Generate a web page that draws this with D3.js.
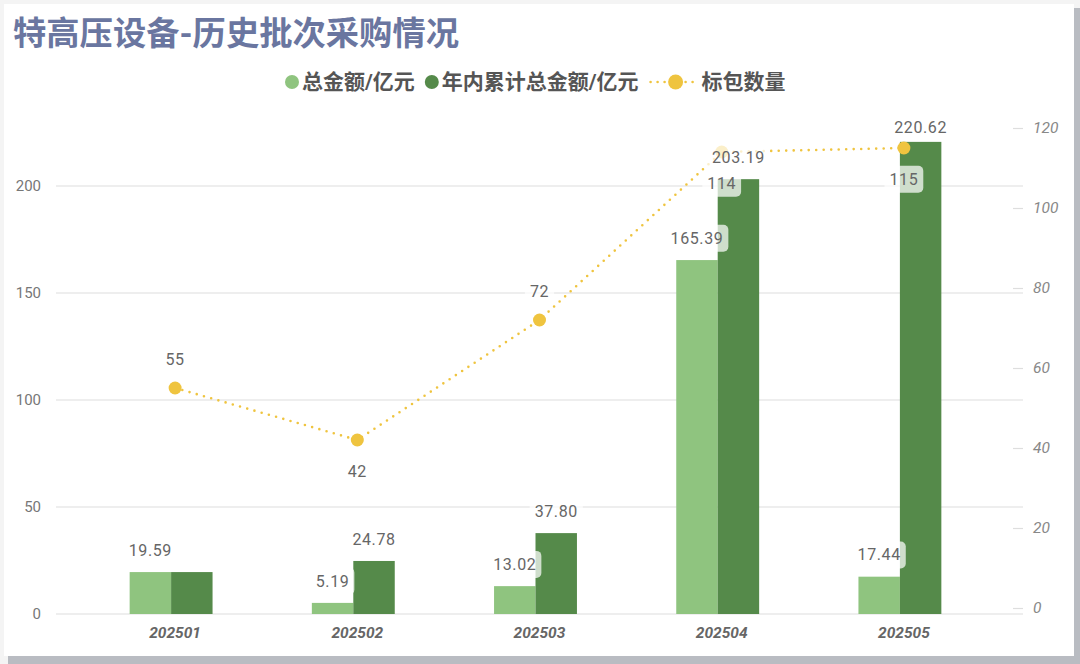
<!DOCTYPE html>
<html>
<head>
<meta charset="utf-8">
<script src="https://cdn.jsdelivr.net/npm/d3@7/dist/d3.min.js"></script>
<style>
  html, body { margin: 0; padding: 0; background: #f4f4f4; }
  svg { display: block; }
  text { font-family: Roboto, "Noto Sans CJK SC", sans-serif; }
</style>
</head>
<body>
<svg id="chart" width="1080" height="664"></svg>
<script>
// ---- data ----
const categories = ["202501", "202502", "202503", "202504", "202505"];
const totalAmount = [19.59, 5.19, 13.02, 165.39, 17.44];        // 总金额/亿元
const cumulativeAmount = [19.59, 24.78, 37.80, 203.19, 220.62];  // 年内累计总金额/亿元
const packageCount = [55, 42, 72, 114, 115];                      // 标包数量
const leftTicks = [0, 50, 100, 150, 200];
const rightTicks = [0, 20, 40, 60, 80, 100, 120];
const lineLabelPos = ["top", "bottom", "top", "bottom", "bottom"];
const seriesNames = ["总金额/亿元", "年内累计总金额/亿元", "标包数量"];
const title = "特高压设备-历史批次采购情况";

const colLight = "#8fc47f", colDark = "#558a4a", colLine = "#efc43f";
const svg = d3.select("#chart");

// ---- card ----
svg.append("rect").attr("x", 0).attr("y", 0).attr("width", 1080).attr("height", 664).attr("fill", "#f4f4f4");
svg.append("rect").attr("x", 8).attr("y", 8).attr("width", 1072).attr("height", 656).attr("fill", "#b9bcc2");
svg.append("rect").attr("x", 4).attr("y", 4).attr("width", 1070).attr("height", 652).attr("fill", "#ffffff");

// ---- title ----
svg.append("text").attr("x", 13).attr("y", 45)
  .attr("font-size", 33.3).attr("font-weight", 700).attr("fill", "#6a76a0")
  .attr("font-family", "'Noto Sans CJK SC', sans-serif")
  .text(title);

// ---- scales ----
const x = d3.scaleBand().domain(categories).range([80, 991]).paddingInner(0.545).paddingOuter(0.2725);
const bw = x.bandwidth() / 2;
const yL = d3.scaleLinear().domain([0, 200]).range([614, 186]);
const yR = d3.scaleLinear().domain([0, 120]).range([608, 128]);
const cx = c => x(c) + x.bandwidth() / 2;

// ---- gridlines ----
svg.append("g").selectAll("line").data(leftTicks).join("line")
  .attr("x1", 56).attr("x2", 1023)
  .attr("y1", d => yL(d)).attr("y2", d => yL(d))
  .attr("stroke", "#e9e9e9").attr("stroke-width", 1.5);

// ---- left axis ----
const axL = svg.append("g").attr("transform", "translate(41,0)")
  .call(d3.axisLeft(yL).tickValues(leftTicks).tickSize(0).tickPadding(0));
axL.select(".domain").remove();
axL.selectAll("text").attr("font-size", 15).attr("fill", "#777").attr("font-family", "Roboto, sans-serif");

// ---- right axis ----
const axR = svg.append("g").attr("transform", "translate(1013,0)")
  .call(d3.axisRight(yR).tickValues(rightTicks).tickSize(10).tickPadding(16));
axR.select(".domain").remove();
axR.selectAll("line").attr("stroke", "#dedede").attr("stroke-width", 1.2);
axR.selectAll("text").attr("font-size", 15.5).attr("fill", "#888").attr("font-style", "italic")
  .attr("font-family", "Roboto, sans-serif").attr("text-anchor", "start")
  .attr("dx", -6);

// ---- x axis labels ----
svg.append("g").selectAll("text").data(categories).join("text")
  .attr("x", d => cx(d) + 4).attr("y", 638)
  .attr("text-anchor", "middle").attr("font-size", 15.5).attr("font-weight", 700)
  .attr("font-style", "italic").attr("fill", "#666")
  .text(d => d);

// ---- bars ----
svg.append("g").selectAll("rect").data(categories).join("rect")
  .attr("x", d => x(d)).attr("width", bw)
  .attr("y", (d, i) => yL(totalAmount[i]))
  .attr("height", (d, i) => yL(0) - yL(totalAmount[i]))
  .attr("fill", colLight);
svg.append("g").selectAll("rect").data(categories).join("rect")
  .attr("x", d => x(d) + bw).attr("width", bw)
  .attr("y", (d, i) => yL(cumulativeAmount[i]))
  .attr("height", (d, i) => yL(0) - yL(cumulativeAmount[i]))
  .attr("fill", colDark);

// ---- line ----
const linePts = categories.map((c, i) => [cx(c) + 4, yR(packageCount[i])]);
svg.append("path").attr("d", d3.line()(linePts))
  .attr("fill", "none").attr("stroke", colLine).attr("stroke-width", 2.6)
  .attr("stroke-linecap", "round").attr("stroke-dasharray", "0 7.5");
svg.append("g").selectAll("circle").data(linePts).join("circle")
  .attr("cx", d => d[0]).attr("cy", d => d[1]).attr("r", 6.5).attr("fill", colLine);

// ---- data labels with translucent boxes ----
const labels = [];
categories.forEach((c, i) => {
  labels.push({ x: x(c) + bw / 2, y: yL(totalAmount[i]) - 22, t: totalAmount[i].toFixed(2) });
  if (cumulativeAmount[i] !== totalAmount[i]) {
    labels.push({ x: x(c) + bw * 1.5, y: Math.max(127, yL(cumulativeAmount[i]) - 22), t: cumulativeAmount[i].toFixed(2) });
  }
});
categories.forEach((c, i) => {
  const py = yR(packageCount[i]);
  labels.push({ x: cx(c) + 4, y: lineLabelPos[i] === "top" ? py - 29 : py + 31, t: String(packageCount[i]) });
});
const lg = svg.append("g");
labels.forEach(l => {
  const g = lg.append("g");
  const r = g.append("rect");
  const t = g.append("text").attr("x", l.x).attr("y", l.y).attr("dy", "0.36em")
    .attr("text-anchor", "middle").attr("font-size", 16).attr("fill", "#666")
    .attr("letter-spacing", 0.6).text(l.t);
  const b = t.node().getBBox();
  r.attr("x", b.x - 5).attr("y", b.y - 4).attr("width", b.width + 10).attr("height", b.height + 8)
    .attr("rx", 5).attr("fill", "#ffffff").attr("fill-opacity", 0.72);
});

// ---- legend ----
const leg = svg.append("g").attr("transform", "translate(0,82)");
let lx = 285;
const legText = (txt, x0) => leg.append("text").attr("x", x0).attr("y", 0).attr("dy", "0.35em")
  .attr("font-size", 21).attr("font-weight", 700).attr("fill", "#555")
  .attr("font-family", "'Noto Sans CJK SC', sans-serif").text(txt);
[colLight, colDark].forEach((col, i) => {
  leg.append("circle").attr("cx", lx + 7).attr("cy", 0).attr("r", 7).attr("fill", col);
  const t = legText(seriesNames[i], lx + 17);
  lx += 17 + t.node().getComputedTextLength() + 10;
});
leg.append("line").attr("x1", lx + 2).attr("x2", lx + 48).attr("y1", 0).attr("y2", 0)
  .attr("stroke", colLine).attr("stroke-width", 2.6).attr("stroke-linecap", "round")
  .attr("stroke-dasharray", "0 7");
leg.append("circle").attr("cx", lx + 27).attr("cy", 0).attr("r", 7.5).attr("fill", colLine);
legText(seriesNames[2], lx + 53);
</script>
</body>
</html>
